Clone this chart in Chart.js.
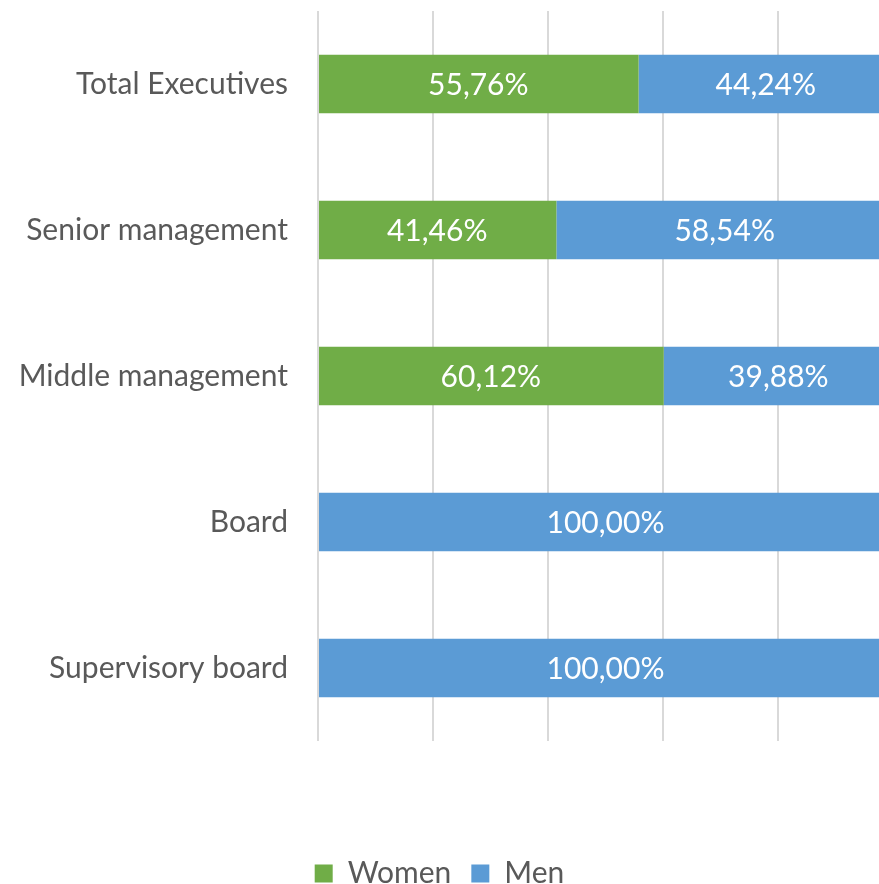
<!DOCTYPE html>
<html>
<head>
<meta charset="utf-8">
<script src="https://cdn.jsdelivr.net/npm/chart.js@4.4.1/dist/chart.umd.min.js"></script>
<style>
  html, body { margin: 0; padding: 0; background: #fff; }
  #wrap { width: 879px; height: 884px; }
</style>
</head>
<body>
<div id="wrap"><canvas id="chartCanvas" width="879" height="884"></canvas></div>
<script>
const categories = ["Total Executives", "Senior management", "Middle management", "Board", "Supervisory board"];
const women = [55.76, 41.46, 60.12, 0, 0];
const men = [44.24, 58.54, 39.88, 100, 100];
const xTicks = [0, 20, 40, 60, 80, 100];

const FONT = "Lato";
const TEXT = "#595959";

// percentage labels in the middle of each segment (comma decimal)
const segmentLabels = {
    id: "segmentLabels",
    afterDatasetsDraw(chart) {
        const ctx = chart.ctx;
        const xs = chart.scales.x;
        ctx.save();
        ctx.font = "30px " + FONT;
        ctx.fillStyle = "#ffffff";
        ctx.textAlign = "center";
        ctx.textBaseline = "middle";
        chart.data.datasets.forEach((ds, di) => {
            const meta = chart.getDatasetMeta(di);
            meta.data.forEach((bar, i) => {
                const v = ds.data[i];
                if (!v) return;
                let start = 0;
                for (let k = 0; k < di; k++) start += chart.data.datasets[k].data[i];
                const cx = (xs.getPixelForValue(start) + xs.getPixelForValue(start + v)) / 2;
                ctx.fillText(v.toFixed(2).replace(".", ",") + "%", cx, bar.y + 1);
            });
        });
        ctx.restore();
    }
};

const ctx = document.getElementById("chartCanvas").getContext("2d");
const chart = new Chart(ctx, {
    type: "bar",
    data: {
        labels: categories,
        datasets: [
            { label: "Women", data: women, backgroundColor: "#70AD47", barPercentage: 0.4, categoryPercentage: 1 },
            { label: "Men", data: men, backgroundColor: "#5B9BD5", barPercentage: 0.4, categoryPercentage: 1 }
        ]
    },
    options: {
        indexAxis: "y",
        responsive: false,
        animation: false,
        layout: { padding: { top: 11, left: 0, right: 0, bottom: -14.5 } },
        scales: {
            x: {
                stacked: true,
                min: 0,
                max: 561 / 115 * 20,
                afterBuildTicks: (scale) => {
                    scale.ticks = xTicks.filter(v => v <= scale.max).map(v => ({ value: v }));
                },
                afterFit: (scale) => { scale.height = 97.5; },
                ticks: { display: false, includeBounds: false },
                grid: { color: "#D9D9D9", lineWidth: 2, drawTicks: false },
                border: { display: false }
            },
            y: {
                stacked: true,
                afterFit: (scale) => {
                    scale.width = 318;
                    scale.paddingTop = 0;
                    scale.paddingBottom = 0;
                },
                ticks: { color: TEXT, font: { family: FONT, size: 30 }, padding: 30 },
                grid: { display: false, drawTicks: false },
                border: { display: false }
            }
        },
        plugins: {
            legend: {
                position: "bottom",
                labels: {
                    color: TEXT,
                    font: { family: FONT, size: 30 },
                    boxWidth: 18,
                    boxHeight: 18,
                    padding: 20
                }
            },
            tooltip: { enabled: false }
        }
    },
    plugins: [segmentLabels]
});
</script>
</body>
</html>
